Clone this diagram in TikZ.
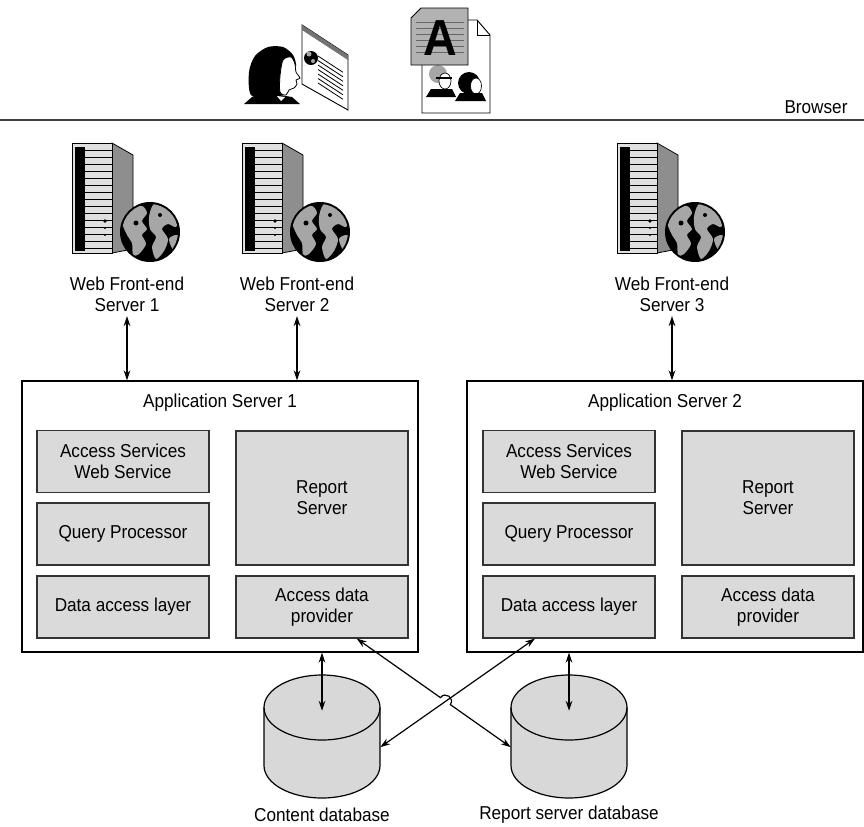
\documentclass[tikz,border=0pt]{standalone}
\usepackage{fontspec}
\setmainfont[FakeStretch=0.92]{Liberation Sans}
\usetikzlibrary{arrows.meta,calc}

\definecolor{partgray}{HTML}{DADADA}
\definecolor{drumgray}{HTML}{D8D8D8}
\definecolor{towergray}{HTML}{8E8E8E}
\definecolor{landgray}{HTML}{A6A6A6}

\tikzset{
  appserver/.style={draw, line width=1pt, minimum width=297pt, minimum height=203.25pt},
  part/.style={draw=black!80, line width=0.8pt, fill=partgray, align=center,
    minimum width=129pt, minimum height=46.5pt},
  link/.style={{Stealth[length=7.5pt,width=5pt]}-{Stealth[length=7.5pt,width=5pt]}, line width=0.9pt},
  dbarea/.style={minimum width=87pt, minimum height=92.25pt, inner sep=0pt},
  % tower with a globe, origin at the tower's top left corner
  pics/webserver/.style={code={
    \filldraw[fill=towergray, line width=0.6pt] (40,0) -- (61,12) -- (61,106) -- (40,110) -- cycle;
    \filldraw[fill=black!12, line width=0.6pt] (0,0) rectangle (40,110);
    \fill (2.5,4) rectangle (13,108);
    \foreach \y in {7,14,...,105}
      \draw[line width=0.5pt] (13,\y) -- (40,\y);
    \fill (33,78) circle (1.8) (33,85) circle (1.2) (33,92) circle (1.2);
    \fill (78,89) circle (30);
    \begin{scope}
      \clip (78,89) circle (28);
      \fill[landgray] plot[smooth cycle] coordinates {(50,78) (58,66) (70,63) (75,70) (70,78) (75,86) (70,92) (74,101) (67,111) (61,112) (60,100) (55,92)};
      \fill[landgray] plot[smooth cycle] coordinates {(81,62) (91,59) (101,64) (107,74) (104,84) (96,81) (90,86) (96,96) (92,108) (84,116) (80,104) (84,94) (78,86) (77,74)};
      \fill[landgray] plot[smooth cycle] coordinates {(97,96) (105,92) (109,100) (102,108)};
      \fill[black] (64,80) circle (2.5) (88,72) circle (2);
    \end{scope}
  }},
  % database drum, origin at the centre of its top end
  pics/drum/.style={code={
    \filldraw[fill=drumgray, line width=0.9pt] (-58,0) -- (-58,58)
      arc[start angle=180, end angle=0, x radius=58, y radius=32.5] -- (58,0)
      arc[start angle=0, end angle=-180, x radius=58, y radius=32.5] -- cycle;
    \draw[line width=0.9pt] (-58,0) arc[start angle=180, end angle=0, x radius=58, y radius=32.5];
  }},
}

\begin{document}
\begin{tikzpicture}[x=0.75pt, y=-0.75pt, font=\fontsize{14}{15.75}\selectfont]
  \useasboundingbox (0,0) rectangle (864,826);

  % user at a web page
  \fill plot[smooth cycle] coordinates {(251,95) (249,72) (255,56) (268,47) (283,47) (293,55) (296,66) (289,67) (284,76) (285,93) (270,98)};
  \filldraw[fill=white, line width=0.6pt] plot[smooth cycle] coordinates {(283,60) (291,57) (295,64) (296,72) (300,78) (296,80) (297,84) (294,88) (289,90) (286,95) (280,92) (280,76)};
  \fill (244,104) -- (252,97) -- (268,93) -- (280,95) -- (292,97) -- (300,104) -- cycle;
  \fill[white] (277,96) -- (285,97) -- (281,101) -- cycle;
  \filldraw[fill=white, line width=0.7pt] (302,25) -- (348,55) -- (348,110) -- (302,84) -- cycle;
  \fill[black!55] (302,25) -- (348,55) -- (348,60) -- (302,30) -- cycle;
  \fill (311,58) circle (7);
  \fill[landgray] (309,54) circle (2.5) (313,61) circle (2);
  \foreach \i in {0,...,6}
    \draw[line width=0.6pt] (318,{56+4.5*\i}) -- (343,{72.3+4.5*\i});

  % report document
  \filldraw[fill=white, line width=0.7pt] (422,20) -- (477,20) -- (490,35) -- (490,113) -- (422,113) -- cycle;
  \draw[line width=0.7pt] (477,20) -- (477,35) -- (490,35);
  \fill[landgray] (438,74) circle (9);
  \filldraw[fill=white, line width=0.5pt] (445,81) ellipse (6 and 8);
  \draw[line width=0.8pt] (436,78) -- (452,78);
  \fill (426,97) -- (431,89) -- (452,89) -- (456,97) -- cycle;
  \fill (469,83) circle (11);
  \filldraw[fill=white, line width=0.5pt] (476,86) ellipse (5.5 and 8);
  \fill (455,101) -- (460,93) -- (482,93) -- (486,101) -- cycle;
  \filldraw[fill=black!30, line width=0.7pt] (411,18) -- (421,8) -- (468,8) -- (468,65) -- (411,65) -- cycle;
  \foreach \y in {22,28,...,52}
    \draw[black!60, line width=0.7pt] (416,\y) -- (464,\y);
  \node[font=\fontsize{38}{38}\bfseries\selectfont] (letter) at (440,38) {A};

  % browser tier
  \draw[black!75, line width=1.5pt] (0,120) -- (864,120);
  \node (browser) at (816,107) {Browser};

  % web front-end servers
  \pic at (72,143) {webserver};
  \pic at (242,143) {webserver};
  \pic at (617,143) {webserver};
  \node[align=center] (wfe1) at (127,294) {Web Front-end\\Server 1};
  \node[align=center] (wfe2) at (297,294) {Web Front-end\\Server 2};
  \node[align=center] (wfe3) at (672,294) {Web Front-end\\Server 3};

  % application servers
  \node[appserver] (as1) at (220,516.5) {};
  \node[anchor=base] (as1title) at ([yshift=-20.6pt]as1.north) {Application Server 1};
  \node[part] (asws1) at (123,461.5) {Access Services\\Web Service};
  \node[part] (qp1) at (123,534) {Query Processor};
  \node[part] (dal1) at (123,607) {Data access layer};
  \node[part, minimum height=100.5pt] (rs1) at (322,498) {Report\\Server};
  \node[part] (adp1) at (322,607) {Access data\\provider};

  \node[appserver] (as2) at (665,516.5) {};
  \node[anchor=base] (as2title) at ([yshift=-20.6pt]as2.north) {Application Server 2};
  \node[part] (asws2) at (569,461.5) {Access Services\\Web Service};
  \node[part] (qp2) at (569,534) {Query Processor};
  \node[part] (dal2) at (569,607) {Data access layer};
  \node[part, minimum height=100.5pt] (rs2) at (768,498) {Report\\Server};
  \node[part] (adp2) at (768,607) {Access data\\provider};

  % databases
  \pic at (322,707.5) {drum};
  \pic at (569,707.5) {drum};
  \node[dbarea] (cdb) at (322,736.5) {};
  \node[dbarea] (rdb) at (569,736.5) {};
  \node (cdblabel) at (322,815) {Content database};
  \node (rdblabel) at (569,815) {Report server database};

  % connectors
  \draw[link] (wfe1.south) -- (wfe1.south |- as1.north);
  \draw[link] (wfe2.south) -- (wfe2.south |- as1.north);
  \draw[link] (wfe3.south) -- (wfe3.south |- as2.north);
  \draw[link] (as1.south -| cdb.north) -- ([yshift=-27pt]cdb.north);
  \draw[link] (as2.south -| rdb.north) -- ([yshift=-27pt]rdb.north);
  \coordinate (from1) at ([xshift=26pt]adp1.south);
  \coordinate (to1) at ([yshift=-8pt]rdb.west);
  \coordinate (from2) at ([xshift=-25.5pt]dal2.south);
  \coordinate (to2) at ([yshift=-8pt]cdb.east);
  \draw[link] (from2) -- (to2);
  \draw[link] (from1) -- ($(from1)!0.544!(to1)$)
    to[out=55, in=55, looseness=1.7] ($(from1)!0.608!(to1)$) -- (to1);
\end{tikzpicture}
\end{document}
